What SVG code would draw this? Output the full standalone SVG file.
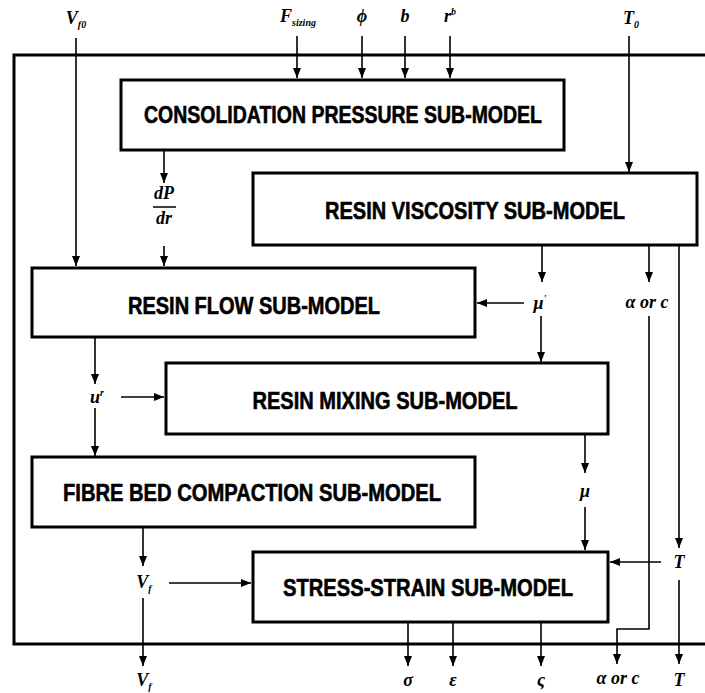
<svg xmlns="http://www.w3.org/2000/svg" width="705" height="693" viewBox="0 0 705 693">
<style>
.box{fill:#fff;stroke:#000;stroke-width:3}
.frame{fill:none;stroke:#000;stroke-width:3}
.t{font-family:"Liberation Sans",Arial,sans-serif;font-weight:bold;font-size:24px;text-anchor:middle;dominant-baseline:central;stroke:#000;stroke-width:0.6}
.c{stroke:#000;stroke-width:1.6;fill:none}
.a{stroke:#000;stroke-width:1.6;fill:none;marker-end:url(#ah)}
.m{font-family:"Liberation Serif","Times New Roman",serif;font-weight:bold;font-style:italic;font-size:18px;text-anchor:middle}
.s{font-size:10px}
</style>
<defs>
<marker id="ah" markerUnits="userSpaceOnUse" markerWidth="10" markerHeight="10" viewBox="0 0 10 10" refX="10" refY="5" orient="auto">
<path d="M0,1 L10,5 L0,9 Z" fill="#000"/>
</marker>
</defs>
<polyline class="frame" points="705,55 14,55 14,644 705,644"/>
<g id="consolidation"><rect class="box" x="121" y="80" width="443" height="70"/><text class="t" x="343" y="114" textLength="398" lengthAdjust="spacingAndGlyphs">CONSOLIDATION PRESSURE SUB-MODEL</text></g>
<g id="viscosity"><rect class="box" x="253" y="173" width="444" height="72"/><text class="t" x="475" y="210" textLength="300" lengthAdjust="spacingAndGlyphs">RESIN VISCOSITY SUB-MODEL</text></g>
<g id="flow"><rect class="box" x="32" y="268" width="443" height="69"/><text class="t" x="254" y="305" textLength="252" lengthAdjust="spacingAndGlyphs">RESIN FLOW SUB-MODEL</text></g>
<g id="mixing"><rect class="box" x="166" y="363" width="442" height="71"/><text class="t" x="385" y="400" textLength="265" lengthAdjust="spacingAndGlyphs">RESIN MIXING SUB-MODEL</text></g>
<g id="fibre"><rect class="box" x="32" y="457" width="443" height="70"/><text class="t" x="252" y="492" textLength="378" lengthAdjust="spacingAndGlyphs">FIBRE BED COMPACTION SUB-MODEL</text></g>
<g id="stress"><rect class="box" x="253" y="552" width="355" height="70"/><text class="t" x="428" y="587" textLength="290" lengthAdjust="spacingAndGlyphs">STRESS-STRAIN SUB-MODEL</text></g>
<g id="connectors">
<line class="a" x1="76" y1="38" x2="76" y2="266"/>
<line class="a" x1="297" y1="36" x2="297" y2="78"/>
<line class="a" x1="362" y1="36" x2="362" y2="78"/>
<line class="a" x1="405" y1="36" x2="405" y2="78"/>
<line class="a" x1="450" y1="36" x2="450" y2="78"/>
<line class="a" x1="629" y1="36" x2="629" y2="172"/>
<line class="a" x1="164" y1="151" x2="164" y2="183"/>
<line class="a" x1="164" y1="246" x2="164" y2="266"/>
<line class="a" x1="542" y1="246" x2="542" y2="282"/>
<line class="a" x1="524" y1="303" x2="477" y2="303"/>
<line class="a" x1="541" y1="316" x2="541" y2="362"/>
<line class="a" x1="649" y1="246" x2="649" y2="282"/>
<polyline class="a" points="649,316 649,629 617,629 617,664"/>
<line class="a" x1="679" y1="246" x2="679" y2="548"/>
<line class="a" x1="661" y1="562" x2="610" y2="562"/>
<line class="a" x1="679" y1="580" x2="679" y2="664"/>
<line class="a" x1="95" y1="338" x2="95" y2="384"/>
<line class="a" x1="121" y1="397" x2="164" y2="397"/>
<line class="a" x1="95" y1="408" x2="95" y2="456"/>
<line class="a" x1="585" y1="435" x2="585" y2="473"/>
<line class="a" x1="585" y1="507" x2="585" y2="550"/>
<line class="a" x1="143" y1="528" x2="143" y2="566"/>
<line class="a" x1="169" y1="583" x2="251" y2="583"/>
<line class="a" x1="143" y1="598" x2="143" y2="666"/>
<line class="a" x1="408" y1="623" x2="408" y2="666"/>
<line class="a" x1="453" y1="623" x2="453" y2="666"/>
<line class="a" x1="541" y1="623" x2="541" y2="666"/>
</g>
<g id="labels">
<text class="m" x="76" y="24">V<tspan class="s" dy="4">f0</tspan></text>
<text class="m" x="298" y="22">F<tspan class="s" dy="4">sizing</tspan></text>
<text class="m" x="362" y="22">ϕ</text>
<text class="m" x="405" y="22">b</text>
<text class="m" x="450" y="22">r<tspan class="s" dy="-7">b</tspan></text>
<text class="m" x="631" y="24">T<tspan class="s" dy="4">0</tspan></text>
<text class="m" x="164" y="199">dP</text>
<line x1="153" y1="207" x2="176" y2="207" stroke="#000" stroke-width="1.5"/>
<text class="m" x="164" y="224">dr</text>
<text class="m" x="540" y="309">μ<tspan class="s" dy="-7">'</tspan></text>
<text class="m" x="647" y="308">α or c</text>
<text class="m" x="97" y="403">u<tspan class="s" dy="-7">r</tspan></text>
<text class="m" x="585" y="497">μ</text>
<text class="m" x="144" y="588">V<tspan class="s" dy="4">f</tspan></text>
<text class="m" x="679" y="568">T</text>
<text class="m" x="144" y="686">V<tspan class="s" dy="4">f</tspan></text>
<text class="m" x="408" y="686">σ</text>
<text class="m" x="453" y="686">ε</text>
<text class="m" x="541" y="686">ς</text>
<text class="m" x="618" y="684">α or c</text>
<text class="m" x="679" y="686">T</text>
</g>
</svg>
